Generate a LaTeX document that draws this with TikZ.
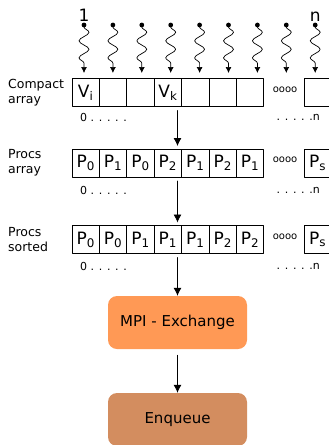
\documentclass[tikz,border=0pt]{standalone}
\usepackage{fontspec}
\setmainfont{DejaVu Sans}
\usetikzlibrary{arrows.meta, decorations.pathmorphing, positioning}
\definecolor{mpiorange}{HTML}{FF9955}
\definecolor{enqbrown}{HTML}{D38D5F}
\tikzset{
  >={Latex[length=8pt, width=8pt]},
  every picture/.style={line cap=round, line join=round},
  cell/.style={draw, line width=0.8pt, minimum width=27.4pt, minimum height=28pt,
               inner sep=0pt, outer sep=0pt, font=\fontsize{17}{17}\selectfont},
  rowlabel/.style={anchor=west, align=left, inner sep=0pt,
                   font=\fontsize{12.5}{15}\selectfont},
  idx/.style={inner sep=0pt, font=\fontsize{11}{11}\selectfont},
  gap/.style={inner sep=0pt, font=\fontsize{10}{10}\selectfont},
  top/.style={inner sep=0pt, font=\fontsize{17}{17}\selectfont},
  flow/.style={->, line width=0.8pt, shorten <=4pt},
  % incoming element, wavy arrow
  wave/.style={->, >={Latex[length=6pt, width=6pt]}, line width=0.7pt, decorate,
               decoration={snake, amplitude=5pt, segment length=17pt,
                           pre length=2pt, post length=7pt}},
  stage/.style={rounded corners=9pt, minimum width=139pt, minimum height=53pt,
                inner sep=0pt, font=\fontsize{15}{15}\selectfont},
}

\begin{document}
\begin{tikzpicture}[x=1pt, y=-1pt]
  \useasboundingbox (0,0) rectangle (329,445);
  % ---- incoming elements 1 ... n
  \node[top, anchor=base] (one) at (84,21) {1};
  \node[top, anchor=base] (en) at (315.2,21) {n};
  \foreach \k in {1,...,9} {
    \coordinate (src\k) at ({84+28.9*(\k-1)},25);
    \coordinate (dst\k) at ({84+28.9*(\k-1)},73);
    \fill (src\k) circle (2.4);
    \draw[wave] (src\k) -- (dst\k);
  }
  % ---- compact array
  \node[rowlabel] (alab) at (8,92.5) {Compact\\array};
  \foreach \t [count=\i] in {V\textsubscript{i},{},{},V\textsubscript{k},{},{},{}}
    \node[cell] (a\i) at ({72+27.4*(\i-0.5)},92.5) {\t};
  \node[gap] (adots) at (285,89.5) {oooo};
  \node[cell] (alast) at (317.7,92.5) {};
  \node[idx, anchor=west] (afirst) at (80,117) {0 . . . . .};
  \node[idx, anchor=east] (aend) at (320,117) {. . . . .n};
  % ---- procs array
  \node[rowlabel] (blab) at (8,163) {Procs\\array};
  \foreach \t [count=\i] in {0,1,0,2,1,2,1}
    \node[cell] (b\i) at ({72+27.4*(\i-0.5)},163) {P\textsubscript{\t}};
  \node[gap] (bdots) at (285,160) {oooo};
  \node[cell] (blast) at (317.7,163) {P\textsubscript{s}};
  \node[idx, anchor=west] (bfirst) at (80,190) {0 . . . . .};
  \node[idx, anchor=east] (bend) at (320,190) {. . . . .n};
  % ---- procs sorted
  \node[rowlabel] (clab) at (8,239.5) {Procs\\sorted};
  \foreach \t [count=\i] in {0,0,1,1,1,2,2}
    \node[cell] (c\i) at ({72+27.4*(\i-0.5)},239.5) {P\textsubscript{\t}};
  \node[gap] (cdots) at (285,236.5) {oooo};
  \node[cell] (clast) at (317.7,239.5) {P\textsubscript{s}};
  \node[idx, anchor=west] (cfirst) at (80,266.5) {0 . . . . .};
  \node[idx, anchor=east] (cend) at (320,266.5) {. . . . .n};
  % ---- exchange and enqueue
  \node[stage, fill=mpiorange] (mpi) at (177.5,322.5) {MPI - Exchange};
  \node[stage, fill=enqbrown] (enq) at (177.5,419.5) {Enqueue};
  \draw[flow, shorten >=3pt] (mpi |- a4.south) -- (mpi |- b4.north);
  \draw[flow, shorten >=3pt] (mpi |- b4.south) -- (mpi |- c4.north);
  \draw[flow] (mpi |- c4.south) -- (mpi.north);
  \draw[flow, shorten <=6pt] (mpi.south) -- (enq.north);
\end{tikzpicture}
\end{document}
